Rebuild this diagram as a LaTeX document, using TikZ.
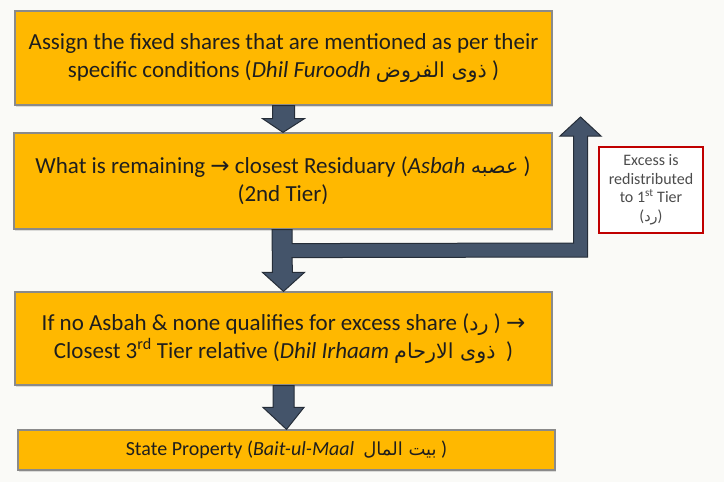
\documentclass[tikz,border=0pt]{standalone}
\usepackage{fontspec}
\setmainfont{Carlito}
\newfontfamily\arabicfont[Script=Arabic,Scale=0.9]{DejaVu Sans}
\newfontfamily\symfont{DejaVu Sans}
\TeXXeTstate=1
\usetikzlibrary{calc,shadows}
\definecolor{boxfill}{HTML}{FFB800}
\definecolor{boxline}{HTML}{8A8A8A}
\definecolor{arrfill}{HTML}{44546A}
\definecolor{arrline}{HTML}{252D38}
\definecolor{txt}{HTML}{1E1E1E}
\definecolor{redline}{HTML}{C00000}
\definecolor{bg}{HTML}{FAFAF7}
\newcommand{\arab}[1]{{\arabicfont\beginR #1\endR}}
\newcommand{\rarrow}{{\symfont\fontsize{23}{24}\selectfont →}}
\tikzset{
  stepbox/.style={draw=boxline, line width=1.2pt, fill=boxfill, text=txt,
    align=center, inner sep=0pt,
    drop shadow={opacity=0.25, shadow xshift=0.8pt, shadow yshift=-1.5pt}},
  blockarrow/.style={draw=arrline, line width=1pt, fill=arrfill, line join=miter},
  notebox/.style={draw=redline, line width=2.2pt, fill=white, text=black!70,
    align=center, inner sep=0pt, font=\fontsize{16}{18.5}\selectfont}
}
\begin{document}
\begin{tikzpicture}[x=1pt,y=-1pt]
\useasboundingbox (0,0) rectangle (724,482);
\fill[bg] (0,0) rectangle (724,482);

\node[stepbox, minimum width=537pt, minimum height=94pt,
  font=\fontsize{23}{28}\selectfont] (b1) at (283.5,58)
  {Assign the fixed shares that are mentioned as per their\\
   specific conditions (\textit{Dhil Furoodh} \arab{ذوى الفروض} )};

\node[stepbox, minimum width=538pt, minimum height=96pt,
  font=\fontsize{23}{28}\selectfont] (b2) at (283,181)
  {What is remaining \rarrow{} closest Residuary (\textit{Asbah} \arab{عصبه} )\\
   (2nd Tier)};

\node[stepbox, minimum width=537pt, minimum height=93pt,
  font=\fontsize{23}{28}\selectfont] (b3) at (283.5,338.5)
  {If no Asbah \& none qualifies for excess share (\arab{رد} ) \rarrow\\
   Closest 3\textsuperscript{rd} Tier relative (\textit{Dhil Irhaam} \arab{ذوى الارحام}\ \ )};

\node[stepbox, minimum width=537pt, minimum height=40pt,
  font=\fontsize{20}{24}\selectfont] (b4) at (286.5,450)
  {State Property (\textit{Bait-ul-Maal}\ \ \arab{بيت المال} )};

\node[notebox, minimum width=104pt, minimum height=86pt] (note) at (651,190)
  {Excess is\\redistributed\\to 1\textsuperscript{st} Tier\\(\arab{رد})};

% arrow b1 -> b2
\draw[blockarrow]
  ($(b1.south)+(-11,0)$) -- ($(b1.south)+(-11,13)$) -- ($(b1.south)+(-21,13)$)
  -- (b2.north) -- ($(b1.south)+(21,13)$) -- ($(b1.south)+(11,13)$)
  -- ($(b1.south)+(11,0)$) -- cycle;

% arrow b2 -> b3 with branch up to the excess arrow
\coordinate (uptip) at (580.5,117);
\draw[blockarrow]
  ($(b2.south)+(-11,0)$) -- ($(b3.north)+(-11,-19)$) -- ($(b3.north)+(-21,-19)$)
  -- (b3.north) -- ($(b3.north)+(21,-19)$) -- ($(b3.north)+(9,-19)$)
  -- ($(b2.south)+(9,28)$) -- ($(uptip)+(7,140)$) -- ($(uptip)+(7,19)$)
  -- ($(uptip)+(20.5,19)$) -- (uptip) -- ($(uptip)+(-20.5,19)$)
  -- ($(uptip)+(-7,19)$) -- ($(uptip)+(-7,126)$) -- ($(b2.south)+(9,14)$)
  -- ($(b2.south)+(9,0)$) -- cycle;

% arrow b3 -> b4
\draw[blockarrow]
  ($(b3.south)+(-10.5,0)$) -- ($(b4.north)+(-13.5,-22)$) -- ($(b4.north)+(-23.5,-22)$)
  -- (b4.north) -- ($(b4.north)+(17.5,-22)$) -- ($(b4.north)+(7.5,-22)$)
  -- ($(b3.south)+(10.5,0)$) -- cycle;
\end{tikzpicture}
\end{document}
